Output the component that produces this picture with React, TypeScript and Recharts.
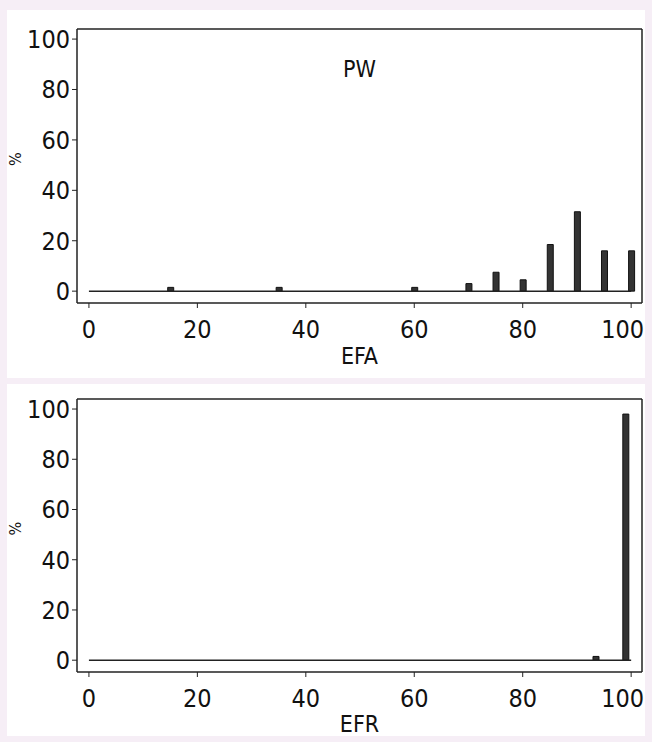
import React from "react";
import { ComposedChart, Bar, XAxis, YAxis, ReferenceLine, Label } from "recharts";

const efaBins = [15, 35, 60, 70, 75, 80, 85, 90, 95, 100];
const efaPct = [1.5, 1.5, 1.5, 3, 7.5, 4.5, 18.5, 31.5, 16, 16];
const efrBins = [93.5, 99];
const efrPct = [1.5, 98];
const xTicks = [0, 20, 40, 60, 80, 100];
const yTicks = [0, 20, 40, 60, 80, 100];

const font = "'DejaVu Sans Condensed', 'DejaVu Sans', sans-serif";

const XTick = ({ x, y, payload }: any) => {
  const last = payload.value === 100;
  return (
    <text x={last ? x + 13 : x} y={y + 10} dy="0.71em" textAnchor={last ? "end" : "middle"}
      fontSize={25} fill="#111" fontFamily={font}>
      {payload.value}
    </text>
  );
};

function Panel({ bins, pct, xLabel, title, top, height, m }: any) {
  const data = bins.map((b: number, i: number) => ({ x: b, y: pct[i] }));
  return (
    <div style={{ position: "absolute", left: 7, top, width: 638, height, background: "#fff" }}>
      <ComposedChart width={638} height={height} data={data}
        margin={{ top: m.top, right: 2, left: 0, bottom: 0 }}>
        <XAxis dataKey="x" type="number" domain={[-2.2, 102]} ticks={xTicks} height={m.bottom}
          tick={<XTick />} tickLine={{ stroke: "#222" }} tickSize={5}
          axisLine={{ stroke: "#222", strokeWidth: 1.5 }} allowDataOverflow>
          <Label value={xLabel} position="insideBottom" offset={m.lab} style={{ fontSize: 23, fill: "#111", fontFamily: font }} />
        </XAxis>
        <XAxis xAxisId="t" orientation="top" dataKey="x" type="number" domain={[-2.2, 102]} tick={false} height={1}
          axisLine={{ stroke: "#222", strokeWidth: 1.5 }} tickLine={false} />
        <YAxis type="number" domain={[-4.7, 104]} ticks={yTicks} width={70}
          tick={{ fontSize: 25, fill: "#111", fontFamily: font }} tickLine={{ stroke: "#222" }} tickSize={5}
          axisLine={{ stroke: "#222", strokeWidth: 1.5 }} allowDataOverflow>
          <Label value="%" angle={-90} position="insideLeft" offset={8} style={{ fontSize: 16, fill: "#111", fontFamily: font }} />
        </YAxis>
        <YAxis yAxisId="r" orientation="right" type="number" domain={[-4.7, 104]} tick={false} width={1}
          axisLine={{ stroke: "#222", strokeWidth: 1.5 }} tickLine={false} />
        <ReferenceLine segment={[{ x: 0, y: 0 }, { x: 100, y: 0 }]} stroke="#222" strokeWidth={1.5} />
        <Bar dataKey="y" barSize={6} fill="#333" stroke="#111" isAnimationActive={false} />
        {title && (
          <ReferenceLine y={88} stroke="none">
            <Label value={title} position="center" style={{ fontSize: 23, fill: "#111", fontFamily: font }} />
          </ReferenceLine>
        )}
      </ComposedChart>
    </div>
  );
}

export default function App() {
  return (
    <div style={{ position: "absolute", left: 0, top: 0, width: 652, height: 742, background: "#f6eef6" }}>
      <Panel bins={efaBins} pct={efaPct} xLabel="EFA" title="PW" top={10} height={368} m={{ top: 18, bottom: 75, lab: 14 }} />
      <Panel bins={efrBins} pct={efrPct} xLabel="EFR" top={384} height={352} m={{ top: 14, bottom: 64, lab: 4 }} />
    </div>
  );
}
